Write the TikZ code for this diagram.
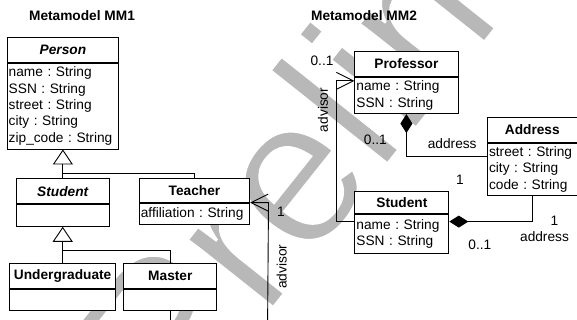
\documentclass[tikz,border=0pt]{standalone}
\usepackage{fontspec}
\setmainfont{Liberation Sans}
\newfontfamily\wmfont{Liberation Sans}[FakeBold=1.4]
\usetikzlibrary{arrows.meta}
\definecolor{wmgray}{gray}{0.72}
\tikzset{
  ln/.style={line width=0.9pt, draw=black},
  box/.style={draw, line width=0.9pt, fill=white, inner sep=0pt, anchor=north west,
              font=\fontsize{13.7}{16.3}\selectfont},
  hd/.style={box, font=\fontsize{13.7}{16.3}\selectfont\bfseries},
  bd/.style={box, align=left, inner xsep=1.6pt, inner ysep=0pt},
  gen/.style={ln, -{Triangle[open, length=15pt, width=20pt]}},
  nav/.style={ln, {Straight Barb[length=17pt, width=17pt]}-},
  comp/.style={ln, {Diamond[length=19pt, width=12pt]}-},
  lbl/.style={font=\fontsize{13.7}{16.3}\selectfont, inner sep=0pt},
  ttl/.style={font=\fontsize{13.7}{16.3}\selectfont\bfseries, inner sep=0pt}
}
\begin{document}
\frenchspacing
\begin{tikzpicture}[x=1pt, y=-1pt]
\useasboundingbox (0,0) rectangle (577,320);
% watermark (grey fill, white outline stroke thins the letters)
\begin{scope}
\clip (0,0) rectangle (577,320);
\node[rotate=51.5, anchor=base west, inner sep=0pt, text=wmgray,
      font=\wmfont\fontsize{207}{207}\selectfont] (wm) at (178.2,427)
  {\special{pdf:bcolor [0.72] [1]}Preliminary\special{pdf:ecolor}};
\end{scope}
% titles
\node[ttl] (t1) at (82,16) {Metamodel MM1};
\node[ttl] (t2) at (364,16) {Metamodel MM2};
% ---------- MM1 ----------
\node[hd, minimum width=111.5, minimum height=24.4] (personH) at (6.7,37.3) {\itshape Person};
\node[bd, text width=108.3, minimum height=86] (personB) at (personH.south west)
  {name : String\\SSN : String\\street : String\\city : String\\zip\_code : String};
\node[hd, minimum width=93.5, minimum height=25] (stuH) at (15.5,178.3) {\itshape Student};
\node[bd, text width=90.3, minimum height=21.7] (stuB) at (stuH.south west) {};
\node[hd, minimum width=110.4, minimum height=23.4] (teaH) at (138.8,178.3) {Teacher};
\node[bd, text width=107.2, minimum height=21.6] (teaB) at (teaH.south west) {affiliation : String};
\node[hd, minimum width=106, minimum height=25] (undH) at (9.2,263.3) {Undergraduate};
\node[bd, text width=102.8, minimum height=20.5] (undB) at (undH.south west) {};
\node[hd, minimum width=93.1, minimum height=25] (masH) at (123.3,263.3) {Master};
\node[bd, text width=89.9, minimum height=20.5] (masB) at (masH.south west) {};
% generalizations
\path (personB.south) ++(0,24) coordinate (j1);
\draw[gen] (j1) -- (personB.south);
\draw[ln] (j1) -- (j1 |- stuH.north);
\draw[ln] (j1) -| (teaH.north);
\path (stuB.south) ++(0,23.3) coordinate (j2);
\draw[gen] (j2) -- (stuB.south);
\draw[ln] (j2) -- (j2 |- undH.north);
\draw[ln] (j2) -| (masH.north);
% master line down
\coordinate (masEnd) at (170,321);
\draw[ln] (masB.south) -- (masB.south |- masEnd);
% advisor MM1
\coordinate (advEnd) at (267.6,321);
\draw[nav] (teaH.south east) -- ++(18.4,0) -- (advEnd);
\node[lbl] (one1) at (281,211.7) {1};
\node[lbl, rotate=90] (adv1) at (281.6,266.7) {advisor};
% ---------- MM2 ----------
\node[hd, minimum width=103.1, minimum height=25] (proH) at (354.4,51) {Professor};
\node[bd, text width=99.9, minimum height=36.3] (proB) at (proH.south west) {name : String\\SSN : String};
\node[hd, minimum width=89.7, minimum height=24.4] (adrH) at (487,117.3) {Address};
\node[bd, text width=86.5, minimum height=52.6] (adrB) at (adrH.south west) {street : String\\city : String\\code : String};
\node[hd, minimum width=94, minimum height=22.6] (st2H) at (354.4,190.7) {Student};
\node[bd, text width=90.8, minimum height=38.4] (st2B) at (st2H.south west) {name : String\\SSN : String};
% advisor MM2
\path (proB.north west) ++(0,4) coordinate (proIn);
\path (st2B.north west) ++(0,7.4) coordinate (st2In);
\draw[nav] (proIn) -- ++(-17.6,0) |- (st2In);
\node[lbl] (m01a) at (322,60.7) {0..1};
\node[lbl, rotate=90] (adv2) at (323,110) {advisor};
\node[lbl] (m01b) at (375.4,140) {0..1};
% compositions
\path (adrB.north west) ++(0,14) coordinate (adrIn);
\draw[comp] (proB.south) |- (adrIn);
\node[lbl] (adr1) at (452.2,143.6) {address};
\node[lbl] (one2) at (460,179.6) {1};
\path (st2B.north east) ++(0,7.4) coordinate (st2Out);
\draw[comp] (st2Out) -| (adrB.south);
\node[lbl] (one3) at (554.3,220.7) {1};
\node[lbl] (adr2) at (544.5,236.3) {address};
\node[lbl] (m01c) at (479.8,244.5) {0..1};
\end{tikzpicture}
\end{document}
